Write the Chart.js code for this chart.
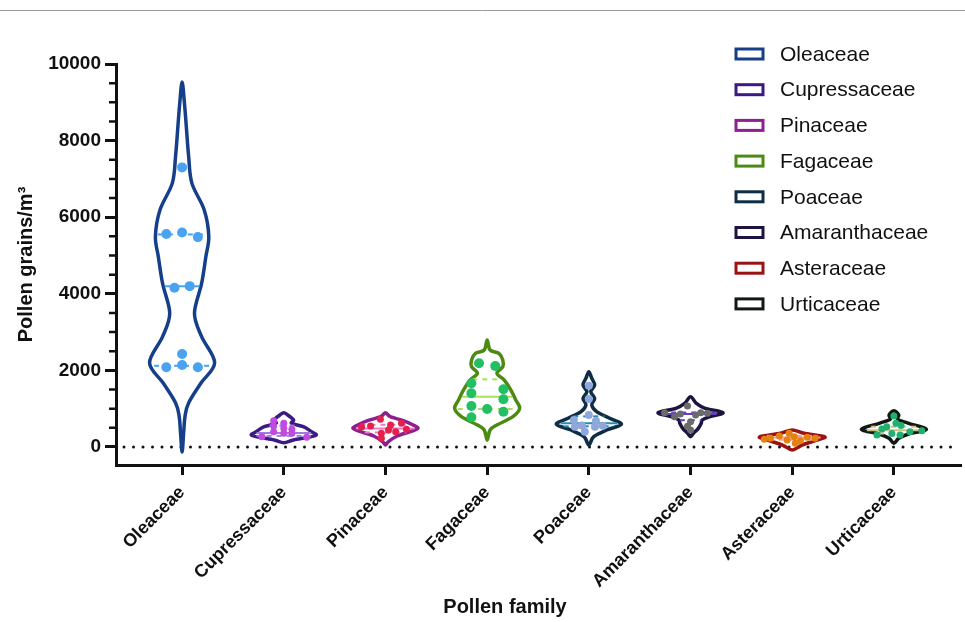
<!DOCTYPE html>
<html>
<head>
<meta charset="utf-8">
<script src="https://cdn.jsdelivr.net/npm/chart.js@4.4.1/dist/chart.umd.min.js"></script>
<style>
  html, body { margin: 0; padding: 0; background: #fff; }
</style>
</head>
<body>
<canvas id="violinChart" width="965" height="622"></canvas>
<script>
// categories
const families = ['Oleaceae', 'Cupressaceae', 'Pinaceae', 'Fagaceae', 'Poaceae', 'Amaranthaceae', 'Asteraceae', 'Urticaceae'];
const yTicks = [0, 2000, 4000, 6000, 8000, 10000];

// violin outlines: levels (grains/m3) and relative width (1 = widest)
const oleaceaeLevels = [-130, 400, 800, 1150, 1670, 2200, 2880, 3490, 4270, 4970, 5500, 6190, 6890, 7600, 8360, 9000, 9530];
const oleaceaeDensity = [0, 0.05, 0.09, 0.2, 0.58, 1.0, 0.6, 0.38, 0.6, 0.73, 0.82, 0.68, 0.3, 0.2, 0.13, 0.07, 0];
const cupressaceaeLevels = [112, 183, 253, 313, 400, 530, 619, 705, 835, 895];
const cupressaceaeDensity = [0, 0.3, 0.76, 1.0, 0.85, 0.6, 0.24, 0.3, 0.12, 0];
const pinaceaeLevels = [52, 138, 287, 400, 488, 574, 687, 792, 895];
const pinaceaeDensity = [0, 0.09, 0.36, 0.76, 1.0, 0.85, 0.55, 0.15, 0];
const fagaceaeLevels = [183, 444, 574, 792, 1010, 1227, 1488, 1750, 1924, 2096, 2272, 2446, 2533, 2794];
const fagaceaeDensity = [0, 0.09, 0.3, 0.79, 1.0, 0.88, 0.73, 0.52, 0.3, 0.48, 0.48, 0.36, 0.09, 0];
const poaceaeLevels = [52, 269, 444, 593, 749, 922, 1097, 1271, 1445, 1619, 1793, 1967];
const poaceaeDensity = [0, 0.15, 0.55, 1.0, 0.64, 0.24, 0.09, 0.18, 0.06, 0.18, 0.09, 0];
const amaranthaceaeLevels = [269, 358, 488, 619, 705, 792, 896, 1010, 1140, 1313];
const amaranthaceaeDensity = [0, 0.09, 0.24, 0.33, 0.36, 0.6, 1.0, 0.45, 0.18, 0];
const asteraceaeLevels = [-78, 52, 183, 269, 358, 444];
const asteraceaeDensity = [0, 0.3, 0.76, 1.0, 0.36, 0];
const urticaceaeLevels = [97, 227, 339, 462, 619, 723, 835, 948];
const urticaceaeDensity = [0, 0.15, 0.45, 1.0, 0.45, 0.12, 0.15, 0];

// individual observations and their horizontal spread (category units)
const oleaceaeValues = [7300, 5560, 5600, 5480, 4160, 4200, 2430, 2080, 2140, 2080];
const oleaceaeJitter = [0, -0.155, 0, 0.155, -0.075, 0.075, 0, -0.155, 0, 0.155];
const cupressaceaeValues = [687, 548, 400, 619, 488, 358, 462, 358, 269, 253];
const cupressaceaeJitter = [-0.1, -0.1, -0.1, 0, 0, 0, 0.08, 0.08, -0.215, 0.225];
const pinaceaeValues = [548, 723, 574, 619, 444, 358, 400, 462, 227, 520];
const pinaceaeJitter = [-0.147, -0.05, 0.05, 0.157, 0.03, -0.04, 0.1, 0.206, -0.04, -0.235];
const fagaceaeValues = [2185, 2115, 1663, 1402, 1506, 1245, 1070, 992, 922, 775];
const fagaceaeJitter = [-0.08, 0.08, -0.155, -0.155, 0.16, 0.16, -0.155, 0, 0.16, -0.155];
const poaceaeValues = [1601, 1253, 836, 705, 679, 556, 530, 560, 530, 400];
const poaceaeJitter = [0, 0, 0, -0.147, 0.07, 0.137, -0.137, -0.07, 0.06, -0.04];
const amaranthaceaeValues = [896, 792, 862, 1070, 836, 896, 879, 660, 444, 540];
const amaranthaceaeJitter = [-0.255, -0.157, -0.1, -0.03, 0.05, 0.1, 0.167, 0, 0, -0.03];
const asteraceaeValues = [227, 287, 183, 269, 165, 253, 227, 358, 97, 200];
const asteraceaeJitter = [-0.216, -0.127, -0.05, 0.02, 0.08, 0.147, 0.225, -0.03, 0.03, -0.275];
const urticaceaeValues = [809, 530, 560, 313, 313, 426, 400, 470, 350, 620];
const urticaceaeJitter = [0, -0.07, 0.07, -0.167, 0.06, 0.275, 0.157, -0.118, -0.02, 0.02];

// summary lines
const medians = [4200, 365, 480, 1313, 619, 862, 250, 440];
const lowerQuartiles = [2120, 290, 380, 992, 540, 700, 190, 350];
const upperQuartiles = [5550, 560, 580, 1767, 800, 900, 290, 530];

const outlineColors = ['#163f8a', '#3c1a86', '#8e1f8e', '#4c8a12', '#0f2d45', '#1d1540', '#9b1212', '#111a12'];
const pointColors = ['#4aa3f0', '#c24ae0', '#e5204c', '#21c063', '#8fa8dc', '#6b6b6b', '#e5820f', '#1fb072'];
const lineColors = ['#4aa3f0', '#9d7be0', '#f07ac0', '#a8e060', '#2a8ab0', '#6a3ec0', '#f0a0a0', '#d0c080'];

const violins = [
  { levels: oleaceaeLevels, density: oleaceaeDensity, values: oleaceaeValues, jitter: oleaceaeJitter, r: 5 },
  { levels: cupressaceaeLevels, density: cupressaceaeDensity, values: cupressaceaeValues, jitter: cupressaceaeJitter, r: 3.5 },
  { levels: pinaceaeLevels, density: pinaceaeDensity, values: pinaceaeValues, jitter: pinaceaeJitter, r: 3.5 },
  { levels: fagaceaeLevels, density: fagaceaeDensity, values: fagaceaeValues, jitter: fagaceaeJitter, r: 5 },
  { levels: poaceaeLevels, density: poaceaeDensity, values: poaceaeValues, jitter: poaceaeJitter, r: 4 },
  { levels: amaranthaceaeLevels, density: amaranthaceaeDensity, values: amaranthaceaeValues, jitter: amaranthaceaeJitter, r: 3.5 },
  { levels: asteraceaeLevels, density: asteraceaeDensity, values: asteraceaeValues, jitter: asteraceaeJitter, r: 3.5 },
  { levels: urticaceaeLevels, density: urticaceaeDensity, values: urticaceaeValues, jitter: urticaceaeJitter, r: 3.5 }
];

const halfWidth = 0.32; // widest half of a violin, in category units

function densityAt(v, value) {
  const L = v.levels, D = v.density;
  if (value <= L[0] || value >= L[L.length - 1]) return 0;
  for (let i = 1; i < L.length; i++) {
    if (value <= L[i]) {
      const t = (value - L[i - 1]) / (L[i] - L[i - 1]);
      return D[i - 1] + t * (D[i] - D[i - 1]);
    }
  }
  return 0;
}

// closed catmull-rom path
function smoothClosed(ctx, pts) {
  const n = pts.length;
  ctx.moveTo(pts[0].x, pts[0].y);
  for (let i = 0; i < n; i++) {
    const p0 = pts[(i - 1 + n) % n], p1 = pts[i], p2 = pts[(i + 1) % n], p3 = pts[(i + 2) % n];
    ctx.bezierCurveTo(
      p1.x + (p2.x - p0.x) / 6, p1.y + (p2.y - p0.y) / 6,
      p2.x - (p3.x - p1.x) / 6, p2.y - (p3.y - p1.y) / 6,
      p2.x, p2.y);
  }
  ctx.closePath();
}

const violinPlugin = {
  id: 'violins',
  beforeDatasetsDraw(chart) {
    const { ctx, chartArea, scales: { x, y } } = chart;
    ctx.save();
    // dotted zero line
    ctx.beginPath();
    ctx.setLineDash([0, 9.5]);
    ctx.lineCap = 'round';
    ctx.lineWidth = 3;
    ctx.strokeStyle = '#111';
    ctx.moveTo(chartArea.left + 8, y.getPixelForValue(0));
    ctx.lineTo(chartArea.right, y.getPixelForValue(0));
    ctx.stroke();
    ctx.setLineDash([]);

    violins.forEach((v, i) => {
      const pts = [];
      for (let k = 0; k < v.levels.length; k++) {
        pts.push({ x: x.getPixelForValue(i - v.density[k] * halfWidth), y: y.getPixelForValue(v.levels[k]) });
      }
      for (let k = v.levels.length - 2; k >= 1; k--) {
        pts.push({ x: x.getPixelForValue(i + v.density[k] * halfWidth), y: y.getPixelForValue(v.levels[k]) });
      }
      ctx.beginPath();
      smoothClosed(ctx, pts);
      ctx.lineWidth = 3.5;
      ctx.lineJoin = 'round';
      ctx.strokeStyle = outlineColors[i];
      ctx.stroke();

      // median and quartiles
      [[lowerQuartiles[i], true], [medians[i], false], [upperQuartiles[i], true]].forEach(([val, dashed]) => {
        const w = densityAt(v, val) * halfWidth * 0.92;
        ctx.beginPath();
        ctx.setLineDash(dashed ? [5, 5] : []);
        ctx.lineCap = 'butt';
        ctx.lineWidth = 2;
        ctx.strokeStyle = lineColors[i];
        ctx.moveTo(x.getPixelForValue(i - w), y.getPixelForValue(val));
        ctx.lineTo(x.getPixelForValue(i + w), y.getPixelForValue(val));
        ctx.stroke();
      });
      ctx.setLineDash([]);
    });
    ctx.restore();
  },
  afterDraw(chart) {
    const { ctx, scales: { y } } = chart;
    ctx.save();
    // frame line at the top of the figure
    ctx.beginPath();
    ctx.lineWidth = 1;
    ctx.strokeStyle = '#9a9a9a';
    ctx.moveTo(0, 10.5);
    ctx.lineTo(965, 10.5);
    ctx.stroke();

    // minor ticks on the y axis, every 500
    ctx.beginPath();
    ctx.lineWidth = 2.5;
    ctx.strokeStyle = '#111';
    for (let v = 500; v < 10000; v += 500) {
      if (v % 2000 === 0) continue;
      const py = y.getPixelForValue(v);
      ctx.moveTo(y.right - 7, py);
      ctx.lineTo(y.right, py);
    }
    ctx.stroke();

    // x axis title
    ctx.fillStyle = '#111';
    ctx.font = 'bold 20px "Liberation Sans", Arial, sans-serif';
    ctx.textAlign = 'center';
    ctx.textBaseline = 'middle';
    ctx.fillText('Pollen family', 505, 607);

    // legend
    ctx.font = '21px "Liberation Sans", Arial, sans-serif';
    ctx.textAlign = 'left';
    families.forEach((f, i) => {
      const ly = 54 + i * 35.7;
      ctx.lineWidth = 3;
      ctx.strokeStyle = outlineColors[i];
      ctx.strokeRect(736, ly - 5, 27, 10);
      ctx.fillStyle = '#111';
      ctx.fillText(f, 780, ly + 1);
    });
    ctx.restore();
  }
};

const datasets = violins.map((v, i) => ({
  label: families[i],
  data: v.values.map((val, k) => ({ x: i + v.jitter[k], y: val })),
  backgroundColor: pointColors[i],
  borderColor: pointColors[i],
  pointRadius: v.r,
  pointBorderWidth: 0
}));

new Chart(document.getElementById('violinChart'), {
  type: 'scatter',
  data: { datasets },
  plugins: [violinPlugin],
  options: {
    responsive: false,
    animation: false,
    layout: { padding: { top: 64, right: 1, left: 0, bottom: 0 } },
    plugins: { legend: { display: false }, tooltip: { enabled: false } },
    scales: {
      x: {
        type: 'linear',
        min: -0.65,
        max: 7.65,
        afterBuildTicks: scale => { scale.ticks = families.map((_, i) => ({ value: i })); },
        afterFit: scale => { scale.height = 157; },
        border: { width: 3, color: '#111' },
        grid: { drawOnChartArea: false, tickLength: 10, lineWidth: 3, color: '#111' },
        ticks: {
          minRotation: 45,
          maxRotation: 45,
          padding: 7,
          color: '#111',
          font: { family: '"Liberation Sans", Arial, sans-serif', size: 18, weight: 'bold' },
          callback: value => families[value]
        }
      },
      y: {
        min: -470,
        max: 10000,
        afterBuildTicks: scale => { scale.ticks = yTicks.map(v => ({ value: v })); },
        afterFit: scale => { scale.width = 116; },
        border: { width: 3, color: '#111' },
        grid: { drawOnChartArea: false, tickLength: 11, lineWidth: 3, color: '#111' },
        ticks: {
          padding: 4,
          color: '#111',
          font: { family: '"Liberation Sans", Arial, sans-serif', size: 19, weight: 'bold' },
          callback: value => String(value)
        },
        title: {
          display: true,
          text: 'Pollen grains/m³',
          color: '#111',
          padding: { top: 14, bottom: 0 },
          font: { family: '"Liberation Sans", Arial, sans-serif', size: 20, weight: 'bold' }
        }
      }
    }
  }
});
</script>
</body>
</html>
